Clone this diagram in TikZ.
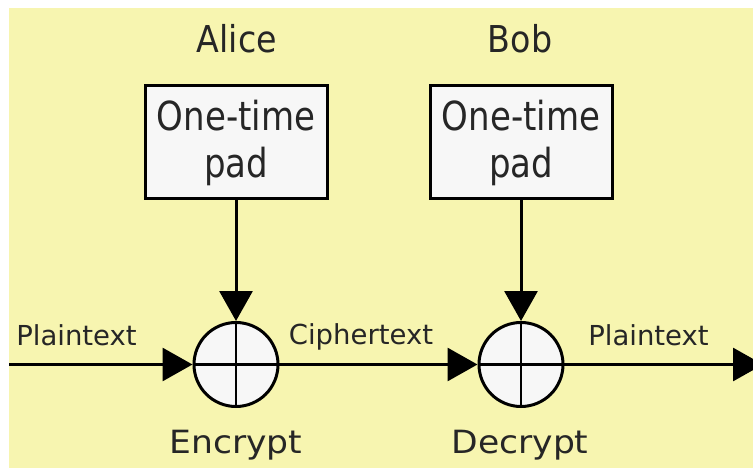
\documentclass[tikz,border=0pt]{standalone}
\usepackage{fontspec}
\setmainfont{DejaVu Sans}
\usetikzlibrary{arrows.meta}
\definecolor{bgyellow}{RGB}{247,245,176}
\definecolor{boxfill}{RGB}{247,247,247}
\newcommand{\sx}[2]{\scalebox{#1}[1]{#2}}
\begin{document}
\begin{tikzpicture}[x=1pt,y=-1pt,
  txt/.style={inner sep=0pt, anchor=base, text=black!85},
  big/.style={txt, font=\fontsize{37pt}{44pt}\selectfont},
  small/.style={txt, font=\fontsize{27.5pt}{33pt}\selectfont},
  mid/.style={txt, font=\fontsize{32pt}{38pt}\selectfont},
  padbox/.style={draw, line width=3pt, fill=boxfill, minimum width=182pt,
    minimum height=113pt, inner sep=0pt, align=center, text=black!85,
    font=\fontsize{40pt}{47pt}\selectfont},
  xor/.style={circle, draw, line width=3pt, fill=boxfill, minimum size=84pt, inner sep=0pt},
  cross/.style={line width=2.5pt},
  arr/.style={line width=3pt, -{Triangle[length=30pt,width=33pt]}}]
\clip (0,0) rectangle (753,468);
\fill[white] (0,0) rectangle (753,468);
\fill[bgyellow] (9,8) rectangle (753,468);

\node[big] (alice) at (237,53) {\sx{0.9}{Alice}};
\node[big] (bob) at (520,53) {\sx{0.9}{Bob}};

\node[padbox] (padA) at (236,142.5) {\sx{0.85}{One-time}\\\sx{0.85}{pad}};
\node[padbox] (padB) at (521,142.5) {\sx{0.85}{One-time}\\\sx{0.85}{pad}};

\node[xor] (xorA) at (236,364.5) {};
\node[xor] (xorB) at (521,364.5) {};
\draw[cross] (xorA.north) -- (xorA.south) (xorA.west) -- (xorA.east);
\draw[cross] (xorB.north) -- (xorB.south) (xorB.west) -- (xorB.east);

\coordinate (start) at (9,364.5);
\coordinate (finish) at (763,364.5);

\draw[arr] (padA) -- (xorA);
\draw[arr] (padB) -- (xorB);
\draw[arr] (start) -- (xorA);
\draw[arr] (xorA) -- (xorB);
\draw[arr] (xorB) -- (finish);

\node[small] (pt1) at (76.5,345) {Plaintext};
\node[small] (ct) at (361,344) {Ciphertext};
\node[small] (pt2) at (648.5,345) {Plaintext};

\node[mid] (enc) at (236,453) {\sx{1.08}{Encrypt}};
\node[mid] (dec) at (520,453) {\sx{1.08}{Decrypt}};
\end{tikzpicture}
\end{document}
